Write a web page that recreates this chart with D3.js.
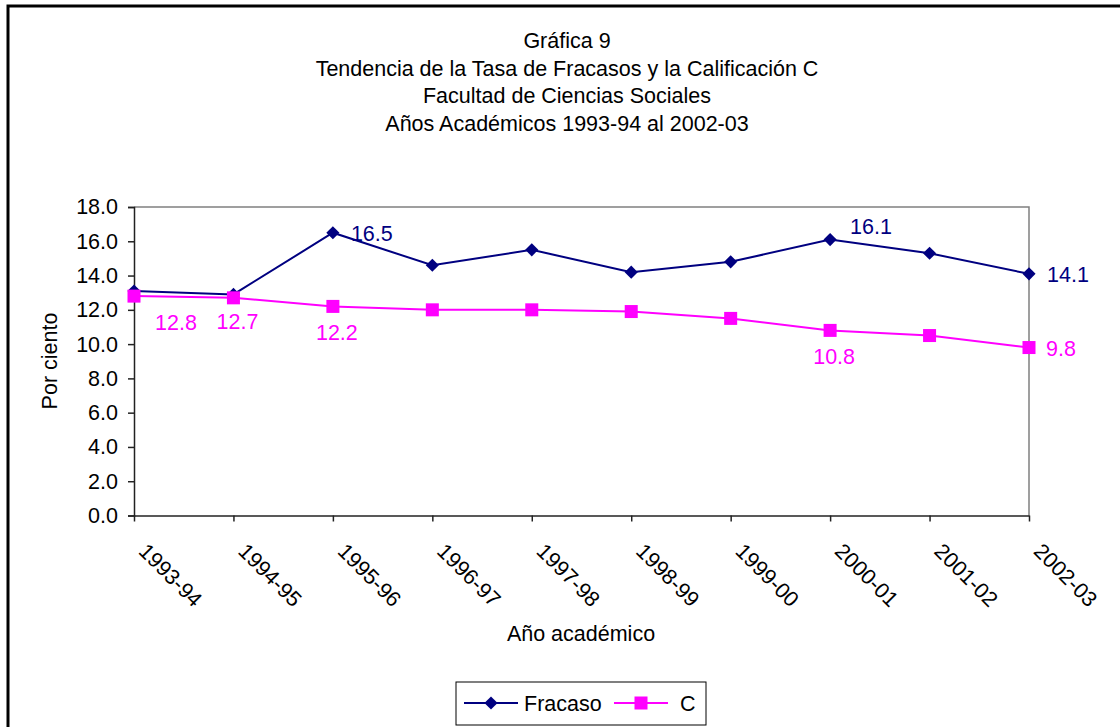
<!DOCTYPE html>
<html>
<head>
<meta charset="utf-8">
<script src="https://cdn.jsdelivr.net/npm/d3@7"></script>
<style>
  body { margin: 0; background: #fff; }
  svg { display: block; font-family: "Liberation Sans", Arial, sans-serif; }
</style>
</head>
<body>
<div class="chart"></div>
<script>
let width = 1120, height = 727;

// datos
let years = ["1993-94","1994-95","1995-96","1996-97","1997-98","1998-99","1999-00","2000-01","2001-02","2002-03"];
let fracaso = [13.1, 12.9, 16.5, 14.6, 15.5, 14.2, 14.8, 16.1, 15.3, 14.1];
let califC = [12.8, 12.7, 12.2, 12.0, 12.0, 11.9, 11.5, 10.8, 10.5, 9.8];
let yTicks = [0, 2, 4, 6, 8, 10, 12, 14, 16, 18];
let titleLines = ["Gráfica 9", "Tendencia de la Tasa de Fracasos y la Calificación C", "Facultad de Ciencias Sociales", "Años Académicos 1993-94 al 2002-03"];

// indices with a visible value label
let fracasoLabels = [2, 7, 9];
let cLabels = [0, 1, 2, 7, 9];

let fs = 21.5;
let margin = { top: 207, bottom: 211, left: 134, right: 91 };

let svg = d3.select(".chart").append("svg")
    .attr("width", width)
    .attr("height", height);

svg.append("rect")
    .attr("x", 8).attr("y", 6)
    .attr("width", width + 20).attr("height", height + 20)
    .attr("fill", "#fff")
    .attr("stroke", "#000")
    .attr("stroke-width", 3);

// title
svg.append("g").selectAll("text")
    .data(titleLines)
    .join("text")
    .attr("x", 567)
    .attr("y", (d, i) => 48 + i * 27.7)
    .attr("text-anchor", "middle")
    .attr("font-size", fs)
    .text(d => d);

let x = d3.scalePoint()
    .domain(years)
    .range([margin.left, width - margin.right]);

let y = d3.scaleLinear()
    .domain([0, 18])
    .range([height - margin.bottom - 0.5, margin.top]);

// plot area border (top & right)
svg.append("path")
    .attr("d", `M${margin.left},${y(18)}H${x(years[9])}V${y(0)}`)
    .attr("fill", "none")
    .attr("stroke", "#808080")
    .attr("stroke-width", 1.5);

// y axis
let yAxis = svg.append("g")
    .attr("transform", `translate(${margin.left},0)`)
    .call(d3.axisLeft(y).tickValues(yTicks).tickFormat(d3.format(".1f")).tickSize(6).tickPadding(10));
yAxis.select(".domain").attr("stroke", "#222").attr("stroke-width", 1.5);
yAxis.selectAll(".tick line").attr("stroke", "#222").attr("stroke-width", 1.5);
yAxis.selectAll("text").attr("font-size", fs).attr("fill", "#000")
    .attr("font-family", "Liberation Sans, Arial, sans-serif");

// x axis
let xAxis = svg.append("g")
    .attr("transform", `translate(0,${y(0)})`)
    .call(d3.axisBottom(x).tickSize(6).tickSizeOuter(0));
xAxis.select(".domain").attr("stroke", "#222").attr("stroke-width", 1.5);
xAxis.selectAll(".tick line").attr("stroke", "#222").attr("stroke-width", 1.5);
xAxis.selectAll("text")
    .attr("font-size", fs).attr("fill", "#000")
    .attr("font-family", "Liberation Sans, Arial, sans-serif")
    .attr("text-anchor", "start")
    .attr("dy", null)
    .attr("y", 0)
    .attr("transform", "translate(3,37) rotate(45)");

// axis titles
svg.append("text")
    .attr("x", 581).attr("y", 641)
    .attr("text-anchor", "middle")
    .attr("font-size", fs)
    .text("Año académico");

svg.append("text")
    .attr("transform", "translate(57,361) rotate(-90)")
    .attr("text-anchor", "middle")
    .attr("font-size", fs)
    .text("Por ciento");

let line = d3.line()
    .x((d, i) => x(years[i]))
    .y(d => y(d));

// Fracaso
svg.append("path")
    .datum(fracaso)
    .attr("d", line)
    .attr("fill", "none")
    .attr("stroke", "#000080")
    .attr("stroke-width", 2);

svg.append("g").selectAll("path")
    .data(fracaso)
    .join("path")
    .attr("d", d3.symbol(d3.symbolDiamond2, 110))
    .attr("transform", (d, i) => `translate(${x(years[i])},${y(d)})`)
    .attr("fill", "#000080");

// C
svg.append("path")
    .datum(califC)
    .attr("d", line)
    .attr("fill", "none")
    .attr("stroke", "#ff00ff")
    .attr("stroke-width", 2);

svg.append("g").selectAll("rect")
    .data(califC)
    .join("rect")
    .attr("x", (d, i) => x(years[i]) - 6.5)
    .attr("y", d => y(d) - 6.5)
    .attr("width", 13).attr("height", 13)
    .attr("fill", "#ff00ff");

// value labels
svg.append("g").selectAll("text")
    .data(fracasoLabels)
    .join("text")
    .attr("x", i => x(years[i]) + (i === 7 ? 20 : 18))
    .attr("y", i => y(fracaso[i]) + (i === 7 ? -6 : 8))
    .attr("font-size", fs)
    .attr("fill", "#000080")
    .text(i => fracaso[i].toFixed(1));

svg.append("g").selectAll("text")
    .data(cLabels)
    .join("text")
    .attr("x", i => i === 9 ? x(years[i]) + 17 : x(years[i]) + (i === 0 ? 42 : 4))
    .attr("y", i => i === 9 ? y(califC[i]) + 8 : y(califC[i]) + (i === 1 ? 31 : 34))
    .attr("text-anchor", i => i === 9 ? "start" : "middle")
    .attr("font-size", fs)
    .attr("fill", "#ff00ff")
    .text(i => califC[i].toFixed(1));

// legend
let legend = svg.append("g");
legend.append("rect")
    .attr("x", 456).attr("y", 682)
    .attr("width", 250).attr("height", 43)
    .attr("fill", "#fff")
    .attr("stroke", "#000")
    .attr("stroke-width", 1);

let legendItems = [
    { name: "Fracaso", color: "#000080", x0: 464, tx: 524 },
    { name: "C", color: "#ff00ff", x0: 614, tx: 680 }
];

legendItems.forEach((item, k) => {
    legend.append("line")
        .attr("x1", item.x0).attr("x2", item.x0 + 54)
        .attr("y1", 703).attr("y2", 703)
        .attr("stroke", item.color)
        .attr("stroke-width", 2);
    if (k === 0) {
        legend.append("path")
            .attr("d", d3.symbol(d3.symbolDiamond2, 110))
            .attr("transform", `translate(${item.x0 + 27},703)`)
            .attr("fill", item.color);
    } else {
        legend.append("rect")
            .attr("x", item.x0 + 27 - 6.5).attr("y", 703 - 6.5)
            .attr("width", 13).attr("height", 13)
            .attr("fill", item.color);
    }
    legend.append("text")
        .attr("x", item.tx).attr("y", 711)
        .attr("font-size", fs)
        .text(item.name);
});
</script>
</body>
</html>
